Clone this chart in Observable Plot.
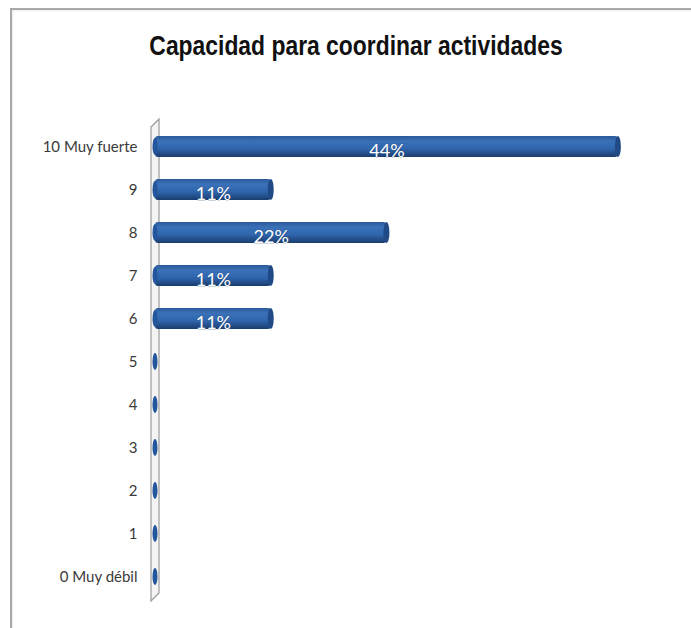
<!DOCTYPE html>
<html>
<head>
<meta charset="utf-8">
<script src="https://cdn.jsdelivr.net/npm/d3@7"></script>
<script src="https://cdn.jsdelivr.net/npm/@observablehq/plot@0.6"></script>
<style>
  body { margin:0; background:#fff; width:691px; height:628px; overflow:hidden; position:relative; }
  #frame { position:absolute; left:10px; top:8px; width:720px; height:700px;
           border-top:2px solid #a8a8a8; border-left:2px solid #a8a8a8;
           box-shadow: inset 1px 1px 2px rgba(0,0,0,0.08); }
  #title { position:absolute; top:30px; left:0; width:712px; text-align:center;
           font-family:"Liberation Sans Narrow","Arial Narrow","Liberation Sans",Arial,sans-serif; font-weight:bold;
           font-size:26px; color:#111; transform:scale(0.88, 1.08); transform-origin:356px 50%; }
  #chart { position:absolute; left:0; top:100px; }
</style>
</head>
<body>
<div id="frame"></div>
<div id="title">Capacidad para coordinar actividades</div>
<div id="chart"></div>
<script>
const categories = ["10 Muy fuerte","9","8","7","6","5","4","3","2","1","0 Muy débil"];
const values = [44, 11, 22, 11, 11, 0, 0, 0, 0, 0, 0];
const labels = ["44%","11%","22%","11%","11%","","","","","",""];

const data = categories.map((c, i) => ({cat: c, value: values[i], label: labels[i]}));
const positive = data.filter(d => d.value > 0);

const plot = Plot.plot({
  width: 691,
  height: 528,
  marginTop: 21,
  marginBottom: 26,
  marginLeft: 155,
  marginRight: 10,
  style: {fontFamily: "Lato, sans-serif", background: "transparent"},
  x: {domain: [0, 50], axis: null},
  y: {domain: categories, paddingInner: 0.52, paddingOuter: 0.26, label: null, axis: null},
  marks: [
    Plot.axisY({tickSize: 0, tickPadding: 18, fontSize: 15, fill: "#3a3a3a", label: null,
                fontFamily: "Lato, sans-serif"}),
    Plot.barX(positive, {x1: 0, x2: "value", y: "cat", fill: "url(#barGrad)", rx: 3}),
    Plot.barX(positive, {x1: "value", x2: "value", y: "cat", insetLeft: -3, insetRight: -3,
                         rx: 3, ry: 11, fill: "#1f4a86"}),
    Plot.barX(data, {x1: 0, x2: 0, y: "cat", insetLeft: -2.5, insetRight: -2.5,
                     insetTop: 2, insetBottom: 2, rx: 2.5, ry: 9, fill: "#23569c"}),
    Plot.text(positive, {x: d => d.value / 2, y: "cat", text: "label", fill: "white",
                         fontSize: 18, dy: 4, fontFamily: "Lato, sans-serif",
                         stroke: "#2a4f80", strokeWidth: 0.6})
  ]
});

// gradient
const svg = d3.select(plot);
const defs = svg.insert("defs", ":first-child");
const g = defs.append("linearGradient").attr("id", "barGrad")
  .attr("x1", 0).attr("y1", 0).attr("x2", 0).attr("y2", 1);
g.append("stop").attr("offset", "0%").attr("stop-color", "#2b5a98");
g.append("stop").attr("offset", "25%").attr("stop-color", "#3b71b9");
g.append("stop").attr("offset", "60%").attr("stop-color", "#2f65ad");
g.append("stop").attr("offset", "100%").attr("stop-color", "#1a3d6e");

// 3D wall behind bars, derived from scales
const xs = plot.scale("x"), ys = plot.scale("y");
const x0 = xs.apply(0);
const [yTop, yBot] = ys.range;
const pts = [[x0 - 4, yTop + 6], [x0 + 4, yTop - 2], [x0 + 4, yBot - 9], [x0 - 4, yBot - 1]];
svg.insert("polygon", "defs + *")
  .attr("points", pts.map(p => p.join(",")).join(" "))
  .attr("fill", "#f4f4f4").attr("stroke", "#9a9a9a").attr("stroke-width", 1.2);

document.getElementById("chart").appendChild(plot);
</script>
</body>
</html>
